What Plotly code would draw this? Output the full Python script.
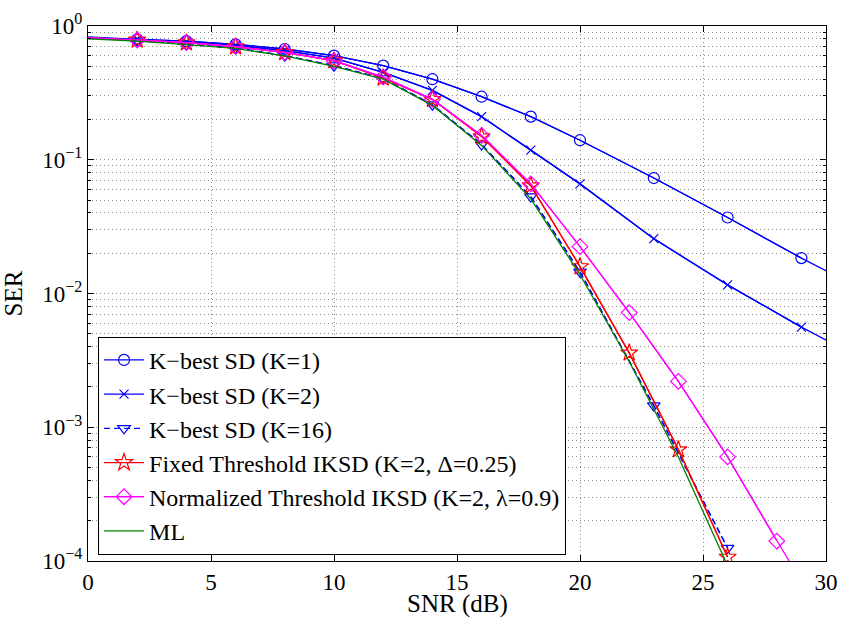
import plotly.graph_objects as go

# ---------------- data ----------------
snr_k1 = [0, 2, 4, 6, 8, 10, 12, 14, 16, 18, 20, 23, 26, 29, 32]
ser_k1 = [0.83, 0.795, 0.772, 0.73, 0.673, 0.60, 0.505, 0.40, 0.296, 0.21, 0.14, 0.073, 0.037, 0.0184, 0.0096]

snr_k2 = [0, 2, 4, 6, 8, 10, 12, 14, 16, 18, 20, 23, 26, 29, 32]
ser_k2 = [0.82, 0.788, 0.76, 0.715, 0.655, 0.575, 0.45, 0.33, 0.21, 0.118, 0.066, 0.0257, 0.0116, 0.0056, 0.0029]

snr_k16 = [0, 2, 4, 6, 8, 10, 12, 14, 16, 18, 20, 23, 26]
ser_k16 = [0.81, 0.778, 0.73, 0.685, 0.60, 0.505, 0.405, 0.258, 0.13, 0.053, 0.0145, 0.00145, 0.000125]

snr_fixed = [0, 2, 4, 6, 8, 10, 12, 14, 16, 18, 20, 22, 24, 26]
ser_fixed = [0.82, 0.786, 0.75, 0.70, 0.636, 0.55, 0.41, 0.283, 0.149, 0.064, 0.0159, 0.0036, 0.00068, 0.000107]

snr_norm = [0, 2, 4, 6, 8, 10, 12, 14, 16, 18, 20, 22, 24, 26, 28, 30]
ser_norm = [0.82, 0.786, 0.75, 0.70, 0.636, 0.55, 0.415, 0.283, 0.152, 0.066, 0.0224, 0.0072, 0.0022, 0.0006, 0.000141, 0.000034]

snr_ml = [0, 2, 4, 6, 8, 10, 12, 14, 16, 18, 20, 22, 24, 26]
ser_ml = [0.80, 0.772, 0.725, 0.68, 0.597, 0.50, 0.40, 0.255, 0.128, 0.051, 0.0138, 0.0031, 0.0006, 0.000092]

x_ticks = [0, 5, 10, 15, 20, 25, 30]
y_ticks = [1e-4, 1e-3, 1e-2, 1e-1, 1]
y_ticktext = ["10<sup>−4</sup>", "10<sup>−3</sup>", "10<sup>−2</sup>", "10<sup>−1</sup>", "10<sup>0</sup>"]

FONT = "Liberation Serif"
TICK_SIZE = 23
TEXT_SIZE = 25
LEGEND_SIZE = 24

series = [
    ("K−best SD (K=1)", snr_k1, ser_k1, "#0000FF", "circle-open", "solid", 11),
    ("K−best SD (K=2)", snr_k2, ser_k2, "#0000FF", "x-thin-open", "solid", 9),
    ("K−best SD (K=16)", snr_k16, ser_k16, "#0000FF", "triangle-down-open", "6px,4px", 11),
    ("Fixed Threshold IKSD (K=2, Δ=0.25)", snr_fixed, ser_fixed, "#FF0000", "star-open", "solid", 13),
    ("Normalized Threshold IKSD (K=2, λ=0.9)", snr_norm, ser_norm, "#FF00FF", "diamond-open", "solid", 12),
    ("ML", snr_ml, ser_ml, "#008000", None, "solid", 0),
]

fig = go.Figure()
for i, (name, xs, ys, color, sym, dash, msize) in enumerate(series):
    grp = f"g{i}"
    # full curve (line only)
    fig.add_trace(go.Scatter(
        x=xs, y=ys, mode="lines", legendgroup=grp, showlegend=(sym is None),
        name=name, line=dict(color=color, width=1.3, dash=dash),
    ))
    if sym is not None:
        mx = [x for x in xs if 0 < x < 30]
        my = [y for x, y in zip(xs, ys) if 0 < x < 30]
        fig.add_trace(go.Scatter(
            x=mx, y=my, mode="lines+markers", legendgroup=grp, name=name,
            line=dict(color=color, width=1.3, dash=dash),
            marker=dict(symbol=sym, size=msize, color=color, line=dict(color=color, width=1.2)),
        ))

GRID = "#8a8a8a"
axis_common = dict(
    showline=True, linecolor="black", linewidth=1, mirror="ticks",
    ticks="inside", ticklen=6, tickcolor="black",
    showgrid=True, gridcolor=GRID, griddash="1px,3px", gridwidth=1,
    zeroline=False, automargin=False,
    tickfont=dict(family=FONT, size=TICK_SIZE, color="black"),
)

fig.update_xaxes(range=[0, 30], tickvals=x_ticks, **axis_common)
fig.update_yaxes(
    type="log", range=[-4, 0], tickvals=y_ticks, ticktext=y_ticktext,
    title=dict(text="SER", font=dict(family=FONT, size=TEXT_SIZE, color="black"), standoff=14),
    minor=dict(dtick="D1", ticks="inside", ticklen=3, tickcolor="black",
               showgrid=True, gridcolor=GRID, griddash="1px,3px", gridwidth=1),
    **axis_common,
)

fig.add_annotation(
    text="SNR (dB)", xref="paper", yref="paper", x=0.5, y=-0.081,
    xanchor="center", yanchor="middle", showarrow=False,
    font=dict(family=FONT, size=TEXT_SIZE, color="black"),
)

fig.update_layout(
    width=841, height=617,
    margin=dict(l=88, r=15, t=26, b=56),
    paper_bgcolor="white", plot_bgcolor="white",
    font=dict(family=FONT, size=TEXT_SIZE, color="black"),
    showlegend=True,
    legend=dict(
        x=0.0136, y=0.419, xanchor="left", yanchor="top",
        bgcolor="white", bordercolor="black", borderwidth=1,
        font=dict(family=FONT, size=LEGEND_SIZE, color="black"),
        tracegroupgap=0, itemwidth=40,
    ),
)

fig.write_html(
    "out.html",
    config={"displayModeBar": False},
    post_script="document.body.style.margin='0';document.body.style.overflow='hidden';",
)
